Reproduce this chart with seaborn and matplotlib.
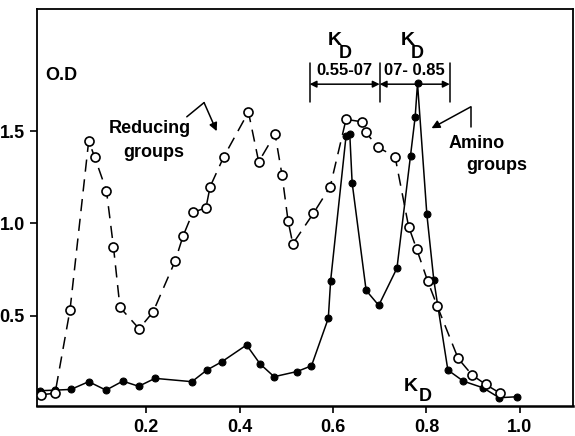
import matplotlib
matplotlib.use('Agg')
import matplotlib.pyplot as plt
import numpy as np
import pandas as pd
import seaborn as sns

# reducing groups (open circles, dashed curve)
red_kd = [-0.026, 0.005, 0.037, 0.077, 0.090, 0.115, 0.130, 0.144, 0.185, 0.215,
          0.262, 0.279, 0.300, 0.328, 0.337, 0.366, 0.419, 0.441, 0.476, 0.491,
          0.504, 0.514, 0.558, 0.594, 0.628, 0.662, 0.670, 0.697, 0.733, 0.762,
          0.779, 0.803, 0.823, 0.868, 0.898, 0.927, 0.958]
red_od = [0.070, 0.078, 0.530, 1.447, 1.358, 1.177, 0.873, 0.544, 0.428, 0.520,
          0.795, 0.931, 1.060, 1.084, 1.199, 1.360, 1.604, 1.334, 1.485, 1.261,
          1.011, 0.889, 1.054, 1.199, 1.564, 1.551, 1.494, 1.412, 1.361, 0.982,
          0.862, 0.685, 0.553, 0.267, 0.177, 0.126, 0.078]

# amino groups (filled circles, solid curve)
amino_kd = [-0.027, 0.005, 0.039, 0.077, 0.114, 0.150, 0.184, 0.219, 0.298, 0.330,
            0.362, 0.415, 0.444, 0.474, 0.523, 0.554, 0.590, 0.595, 0.628, 0.636,
            0.641, 0.671, 0.698, 0.737, 0.766, 0.776, 0.781, 0.801, 0.816, 0.846,
            0.879, 0.921, 0.956, 0.993]
amino_od = [0.092, 0.095, 0.099, 0.141, 0.095, 0.144, 0.116, 0.159, 0.141, 0.204,
            0.249, 0.340, 0.237, 0.168, 0.196, 0.227, 0.485, 0.689, 1.474, 1.483,
            1.221, 0.636, 0.555, 0.757, 1.367, 1.578, 1.760, 1.049, 0.690, 0.204,
            0.144, 0.108, 0.054, 0.059]

x_ticks = [0.2, 0.4, 0.6, 0.8, 1.0]
x_tick_labels = ['0.2', '0.4', '0.6', '0.8', '1.0']
y_ticks = [0.5, 1.0, 1.5]
y_tick_labels = ['0.5', '1.0', '1.5']

# K_D fraction ranges shown as brackets at the top
range_edges = [0.55, 0.70, 0.85]
range_labels = ['0.55-07', '07- 0.85']

sns.set_style('ticks')
plt.rcParams['font.family'] = ['Liberation Sans', 'DejaVu Sans']
plt.rcParams['font.weight'] = 'bold'

fig = plt.figure(figsize=(5.75, 4.36), dpi=100)
ax = fig.add_axes([0.0649, 0.0688, 0.9317, 0.9106])

amino_df = pd.DataFrame({'kd': amino_kd, 'od': amino_od})
red_df = pd.DataFrame({'kd': red_kd, 'od': red_od})

sns.lineplot(data=amino_df, x='kd', y='od', sort=False, estimator=None, ax=ax,
             color='black', linewidth=1.1, marker='o', markersize=5,
             markerfacecolor='black', markeredgecolor='black', zorder=2)
sns.lineplot(data=red_df, x='kd', y='od', sort=False, estimator=None, ax=ax,
             color='black', linewidth=1.1, linestyle=(0, (8, 5)), marker='o',
             markersize=6.5, markerfacecolor='white', markeredgecolor='black',
             markeredgewidth=1.2, zorder=3)

ax.set_xlim(-0.033, 1.114)
ax.set_ylim(0.009, 2.163)
ax.set_xticks(x_ticks)
ax.set_xticklabels(x_tick_labels)
ax.set_yticks(y_ticks)
ax.set_yticklabels(y_tick_labels)
ax.set_xlabel('')
ax.set_ylabel('')
ax.tick_params(axis='both', direction='out', length=5, width=1.2, labelsize=13,
               colors='black', pad=4)
for s in ax.spines.values():
    s.set_visible(True)
    s.set_color('black')
    s.set_linewidth(1.3)
ax.spines['bottom'].set_linewidth(1.8)

txt = dict(color='black', fontweight='bold')
ax.text(-0.015, 1.80, 'O.D', ha='left', va='center', fontsize=13, **txt)
ax.text(0.207, 1.517, 'Reducing', ha='center', va='center', fontsize=13, **txt)
ax.text(0.217, 1.386, 'groups', ha='center', va='center', fontsize=13, **txt)
ax.text(0.908, 1.435, 'Amino', ha='center', va='center', fontsize=13, **txt)
ax.text(0.951, 1.316, 'groups', ha='center', va='center', fontsize=13, **txt)

# K_D labels
for kx, ky, dx, dy in [(0.603, 1.994, 0.627, 1.924), (0.761, 1.994, 0.780, 1.924),
                       (0.767, 0.117, 0.797, 0.058)]:
    ax.text(kx, ky, 'K', ha='center', va='center', fontsize=14, **txt)
    ax.text(dx, dy, 'D', ha='center', va='center', fontsize=13, **txt)

# pointer arrows
ax.plot([0.287, 0.324], [1.578, 1.655], color='black', lw=1.1)
ax.annotate('', xy=(0.351, 1.50), xytext=(0.324, 1.655),
            arrowprops=dict(arrowstyle='-|>', color='black', lw=1.1,
                            mutation_scale=12, shrinkA=0, shrinkB=0))
ax.plot([0.895, 0.895], [1.52, 1.632], color='black', lw=1.1)
ax.annotate('', xy=(0.811, 1.516), xytext=(0.895, 1.632),
            arrowprops=dict(arrowstyle='-|>', color='black', lw=1.1,
                            mutation_scale=12, shrinkA=0, shrinkB=0))

# range brackets
for e in range_edges:
    ax.plot([e, e], [1.658, 1.87], color='black', lw=1.1)
for i, lab in enumerate(range_labels):
    a, b = range_edges[i], range_edges[i + 1]
    ax.annotate('', xy=(a, 1.755), xytext=(b, 1.755),
                arrowprops=dict(arrowstyle='<|-|>', color='black', lw=1.1,
                                mutation_scale=10, shrinkA=0, shrinkB=0))
    ax.text((a + b) / 2, 1.83, lab, ha='center', va='center', fontsize=12, **txt)

plt.savefig('out.png', dpi=100)
